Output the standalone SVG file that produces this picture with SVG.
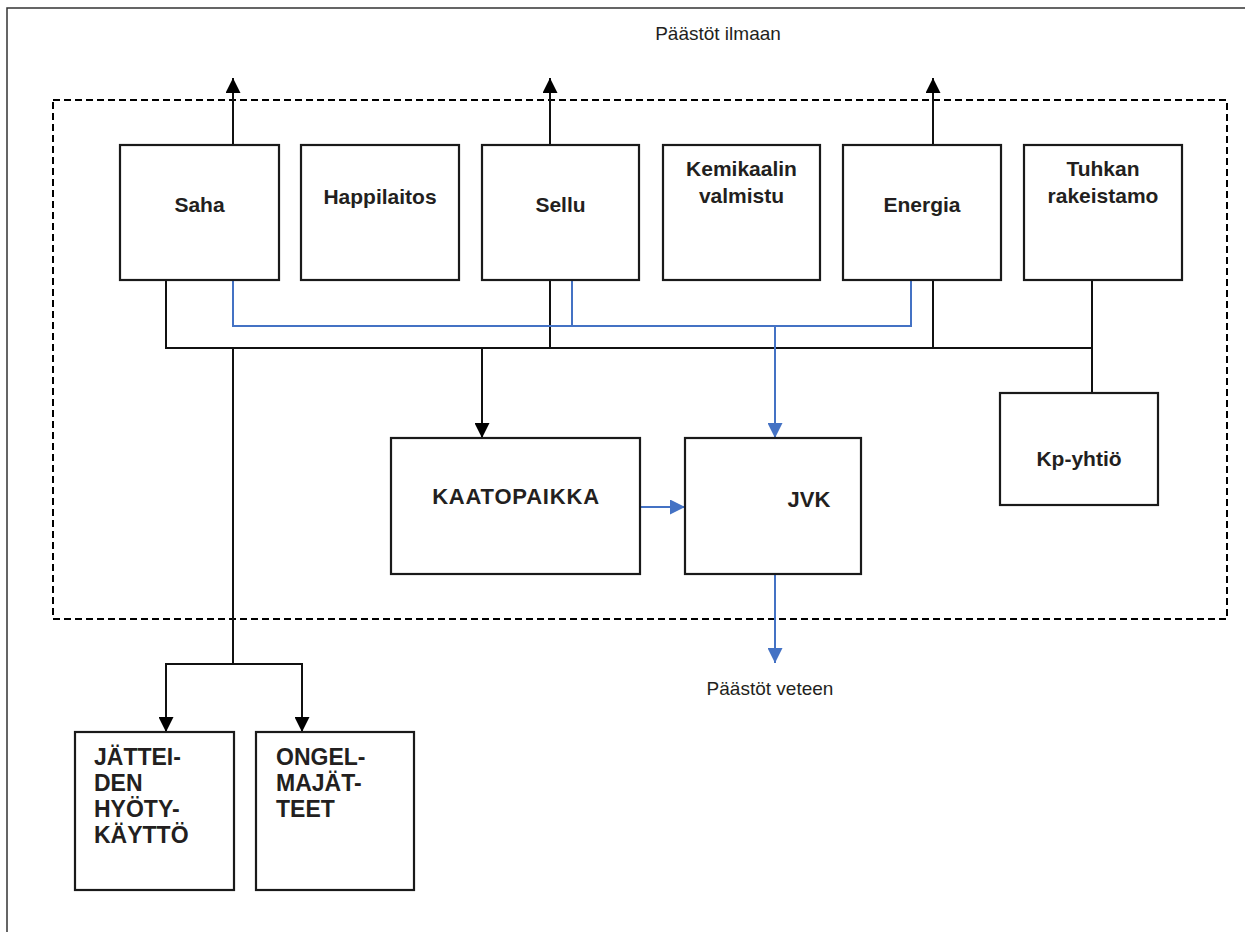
<svg xmlns="http://www.w3.org/2000/svg" width="1245" height="932" viewBox="0 0 1245 932">
  <style>
    .box { fill: #ffffff; stroke: #1a1a1a; stroke-width: 2.2; }
    .lbl { font-family: "Liberation Sans", Arial, sans-serif; font-weight: bold; font-size: 21px; fill: #231f20; text-anchor: middle; }
    .lbl-left { font-family: "Liberation Sans", Arial, sans-serif; font-weight: bold; font-size: 23px; fill: #231f20; }
    .note { font-family: "Liberation Sans", Arial, sans-serif; font-size: 19px; fill: #231f20; text-anchor: middle; }
    .blk { fill: none; stroke: #111111; stroke-width: 2; }
    .blu { fill: none; stroke: #4472c4; stroke-width: 2; }
  </style>
  <defs>
    <marker id="arrowBlack" markerUnits="userSpaceOnUse" markerWidth="15" markerHeight="15" refX="15" refY="7.5" orient="auto">
      <path d="M0,0 L15,7.5 L0,15 z" fill="#000000"/>
    </marker>
    <marker id="arrowBlue" markerUnits="userSpaceOnUse" markerWidth="15" markerHeight="15" refX="15" refY="7.5" orient="auto">
      <path d="M0,0 L15,7.5 L0,15 z" fill="#4472c4"/>
    </marker>
  </defs>

  <rect width="1245" height="932" fill="#ffffff"/>

  <!-- page frame (left and top edges) -->
  <path d="M7,932 V8 H1245" fill="none" stroke="#333333" stroke-width="1.5"/>

  <!-- mill site boundary -->
  <rect id="site-boundary" x="53" y="100" width="1174" height="519" fill="none" stroke="#000000" stroke-width="2" stroke-dasharray="7,4"/>

  <!-- emission labels -->
  <text id="air-label" class="note" x="718" y="40">Päästöt ilmaan</text>
  <text id="water-label" class="note" x="770" y="695">Päästöt veteen</text>

  <!-- connectors -->
  <g id="connectors">
    <!-- air emissions -->
    <path class="blk" d="M233,145 V78" marker-end="url(#arrowBlack)"/>
    <path class="blk" d="M550,145 V78" marker-end="url(#arrowBlack)"/>
    <path class="blk" d="M933,145 V78" marker-end="url(#arrowBlack)"/>

    <!-- solid waste collector -->
    <path class="blk" d="M166,280 V348 H1092"/>
    <path class="blk" d="M550,280 V348"/>
    <path class="blk" d="M933,280 V348"/>
    <path class="blk" d="M1092,280 V393"/>
    <path class="blk" d="M482,348 V438" marker-end="url(#arrowBlack)"/>
    <path class="blk" d="M233,348 V664"/>
    <path class="blk" d="M233,664 H166 V732" marker-end="url(#arrowBlack)"/>
    <path class="blk" d="M233,664 H302 V732" marker-end="url(#arrowBlack)"/>

    <!-- waste water collector -->
    <path class="blu" d="M233,280 V326 H911 V280"/>
    <path class="blu" d="M572,280 V326"/>
    <path class="blu" d="M775,326 V438" marker-end="url(#arrowBlue)"/>
    <path class="blu" d="M640,507 H685" marker-end="url(#arrowBlue)"/>
    <path class="blu" d="M775,574 V663" marker-end="url(#arrowBlue)"/>
  </g>

  <!-- process units -->
  <g id="saha">
    <rect class="box" x="120" y="145" width="159" height="135"/>
    <text class="lbl" x="199.5" y="212">Saha</text>
  </g>
  <g id="happilaitos">
    <rect class="box" x="301" y="145" width="158" height="135"/>
    <text class="lbl" x="380" y="204">Happilaitos</text>
  </g>
  <g id="sellu">
    <rect class="box" x="482" y="145" width="157" height="135"/>
    <text class="lbl" x="560.5" y="212">Sellu</text>
  </g>
  <g id="kemikaalin-valmistus">
    <rect class="box" x="663" y="145" width="157" height="135"/>
    <text class="lbl" x="741.5" y="176">Kemikaalin</text>
    <text class="lbl" x="741.5" y="203">valmistu</text>
  </g>
  <g id="energia">
    <rect class="box" x="843" y="145" width="158" height="135"/>
    <text class="lbl" x="922" y="212">Energia</text>
  </g>
  <g id="tuhkan-rakeistamo">
    <rect class="box" x="1024" y="145" width="158" height="135"/>
    <text class="lbl" x="1103" y="176">Tuhkan</text>
    <text class="lbl" x="1103" y="203">rakeistamo</text>
  </g>

  <g id="kaatopaikka">
    <rect class="box" x="391" y="438" width="249" height="136"/>
    <text class="lbl" x="516" y="504" style="font-size:22px; letter-spacing:0.8px">KAATOPAIKKA</text>
  </g>
  <g id="jvk">
    <rect class="box" x="685" y="438" width="176" height="136"/>
    <text class="lbl" x="809" y="507" style="font-size:22px">JVK</text>
  </g>
  <g id="kp-yhtio">
    <rect class="box" x="1000" y="393" width="158" height="112"/>
    <text class="lbl" x="1079" y="466">Kp-yhtiö</text>
  </g>

  <!-- off-site destinations -->
  <g id="hyotykaytto">
    <rect class="box" x="75" y="732" width="159" height="158"/>
    <text class="lbl-left" x="94" y="765">JÄTTEI-</text>
    <text class="lbl-left" x="94" y="791">DEN</text>
    <text class="lbl-left" x="94" y="817">HYÖTY-</text>
    <text class="lbl-left" x="94" y="843">KÄYTTÖ</text>
  </g>
  <g id="ongelmajatteet">
    <rect class="box" x="256" y="732" width="158" height="158"/>
    <text class="lbl-left" x="276" y="765">ONGEL-</text>
    <text class="lbl-left" x="276" y="791">MAJÄT-</text>
    <text class="lbl-left" x="276" y="817">TEET</text>
  </g>
</svg>
